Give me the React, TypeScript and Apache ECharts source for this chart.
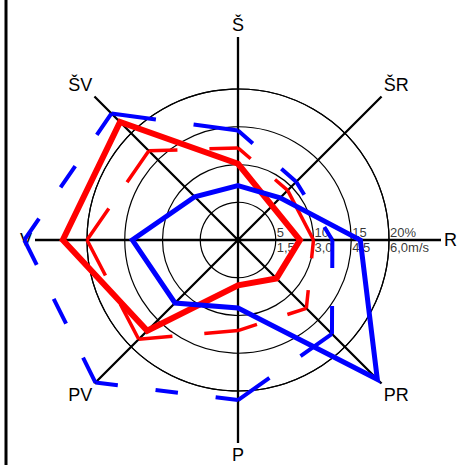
import React, { useEffect, useRef } from 'react';
import * as echarts from 'echarts';

// Wind directions (clockwise from north) and their compass angles
const directions = ['Š', 'ŠR', 'R', 'PR', 'P', 'PV', 'V', 'ŠV'];
const directionAngles = [0, 45, 90, 135, 180, 225, 270, 315];

// Frequencies / speeds, in % of the ring scale (20% = 6,0 m/s)
const blueSolid = [7.2, 7.9, 16.2, 26.1, 9.0, 11.8, 14.0, 8.1];
const blueDashed = [14.5, 10.9, 12.5, 17.6, 21.2, 26.7, 28.3, 23.7];
const redSolid = [10.1, 6.4, 8.2, 7.2, 6.0, 17.0, 23.2, 22.1];
const redDashed = [12.2, 9.3, 10.0, 12.8, 12.0, 18.6, 20.0, 16.7];

// Ring ticks and labels
const ringValues = [5, 10, 15, 20];
const ringPercentLabels = ['5', '10', '15', '20%'];
const ringSpeedLabels = ['1,5', '3,0', '4,5', '6,0m/s'];
const ringLabelAngle = 90;

const FONT = 'Liberation Sans, Arial, sans-serif';
const BLUE = '#0000ff';
const RED = '#ff0000';

function solidSeries(vals: number[], color: string, width: number, z: number) {
  return {
    type: 'custom',
    coordinateSystem: 'polar',
    polarIndex: 0,
    silent: true,
    clip: false,
    z,
    data: vals.map((v, i) => [v, directionAngles[i]]),
    renderItem: (params: any, api: any) => {
      if (params.dataIndex !== 0) return null;
      const pts = vals.map((v, i) => api.coord([v, directionAngles[i]]));
      return {
        type: 'polygon',
        shape: { points: pts },
        style: { stroke: color, lineWidth: width, fill: null, lineJoin: 'miter', miterLimit: 10 },
      };
    },
  };
}

function dashedSeries(vals: number[], color: string, width: number, gap: number, nominal: number, z: number) {
  return {
    type: 'custom',
    coordinateSystem: 'polar',
    polarIndex: 0,
    silent: true,
    clip: false,
    z,
    data: vals.map((v, i) => [v, directionAngles[i]]),
    renderItem: (params: any, api: any) => {
      const i = params.dataIndex;
      const j = (i + 1) % vals.length;
      const p1 = api.coord([vals[i], directionAngles[i]]);
      const p2 = api.coord([vals[j], directionAngles[j]]);
      const L = Math.hypot(p2[0] - p1[0], p2[1] - p1[1]);
      const n = Math.max(1, Math.round((L + gap) / (nominal + gap)));
      const d = Math.max(1, (L - (n - 1) * gap) / n);
      return {
        type: 'line',
        shape: { x1: p1[0], y1: p1[1], x2: p2[0], y2: p2[1] },
        style: { stroke: color, lineWidth: width, lineDash: [d, gap], lineCap: 'butt', fill: null },
      };
    },
  };
}

function ringLabelSeries(texts: string[], dy: number) {
  return {
    type: 'scatter',
    coordinateSystem: 'polar',
    polarIndex: 0,
    silent: true,
    symbolSize: 0,
    z: 2,
    data: ringValues.map((v) => [v, ringLabelAngle]),
    label: {
      show: true,
      position: 'right',
      distance: 1,
      offset: [0, dy],
      fontSize: 13,
      lineHeight: 14,
      color: '#000',
      fontFamily: FONT,
      formatter: (p: any) => texts[p.dataIndex],
    },
  };
}

export default function App() {
  const ref = useRef<HTMLDivElement>(null);

  useEffect(() => {
    if (!ref.current) return;
    const chart = echarts.init(ref.current, null, { renderer: 'svg' });
    const center = [238, 240];
    chart.setOption({
      animation: false,
      backgroundColor: '#ffffff',
      textStyle: { fontFamily: FONT },
      polar: [
        { center, radius: 151 },
        { center, radius: 203 },
      ],
      angleAxis: [
        {
          polarIndex: 0,
          type: 'value',
          min: 0,
          max: 360,
          startAngle: 90,
          clockwise: true,
          axisLine: { show: true, lineStyle: { color: '#000', width: 1.2 } },
          axisTick: { show: false },
          axisLabel: { show: false },
          splitLine: { show: false },
        },
        {
          polarIndex: 1,
          type: 'value',
          min: 0,
          max: 360,
          interval: 45,
          startAngle: 90,
          clockwise: true,
          axisLine: { show: false },
          axisTick: { show: false },
          splitLine: { show: true, lineStyle: { color: '#000', width: 2.3 } },
          axisLabel: {
            show: true,
            margin: 3,
            fontSize: 18,
            color: '#000',
            fontFamily: FONT,
            formatter: (v: number) => {
              if (v >= 360) return '';
              const idx = directionAngles.indexOf(Math.round(v));
              return idx >= 0 ? directions[idx] : '';
            },
          },
        },
      ],
      radiusAxis: [
        {
          polarIndex: 0,
          type: 'value',
          min: 0,
          max: 20,
          interval: 5,
          axisLine: { show: false },
          axisTick: { show: false },
          axisLabel: { show: false },
          splitLine: { show: true, lineStyle: { color: '#000', width: 1.2 } },
        },
        {
          polarIndex: 1,
          type: 'value',
          min: 0,
          max: 1,
          axisLine: { show: false },
          axisTick: { show: false },
          axisLabel: { show: false },
          splitLine: { show: false },
        },
      ],
      graphic: [
        { type: 'rect', shape: { x: 4.5, y: 0, width: 3, height: 465 }, style: { fill: '#000' } },
      ],
      series: [
        dashedSeries(redDashed, RED, 3.5, 32, 30, 3),
        solidSeries(redSolid, RED, 6, 4),
        dashedSeries(blueDashed, BLUE, 4, 38, 30, 5),
        solidSeries(blueSolid, BLUE, 5, 6),
        ringLabelSeries(ringPercentLabels, -7.5),
        ringLabelSeries(ringSpeedLabels, 7.5),
      ],
    });
    return () => chart.dispose();
  }, []);

  return (
    <div
      ref={ref}
      style={{ position: 'absolute', left: 0, top: 0, width: 468, height: 465, background: '#fff' }}
    />
  );
}
